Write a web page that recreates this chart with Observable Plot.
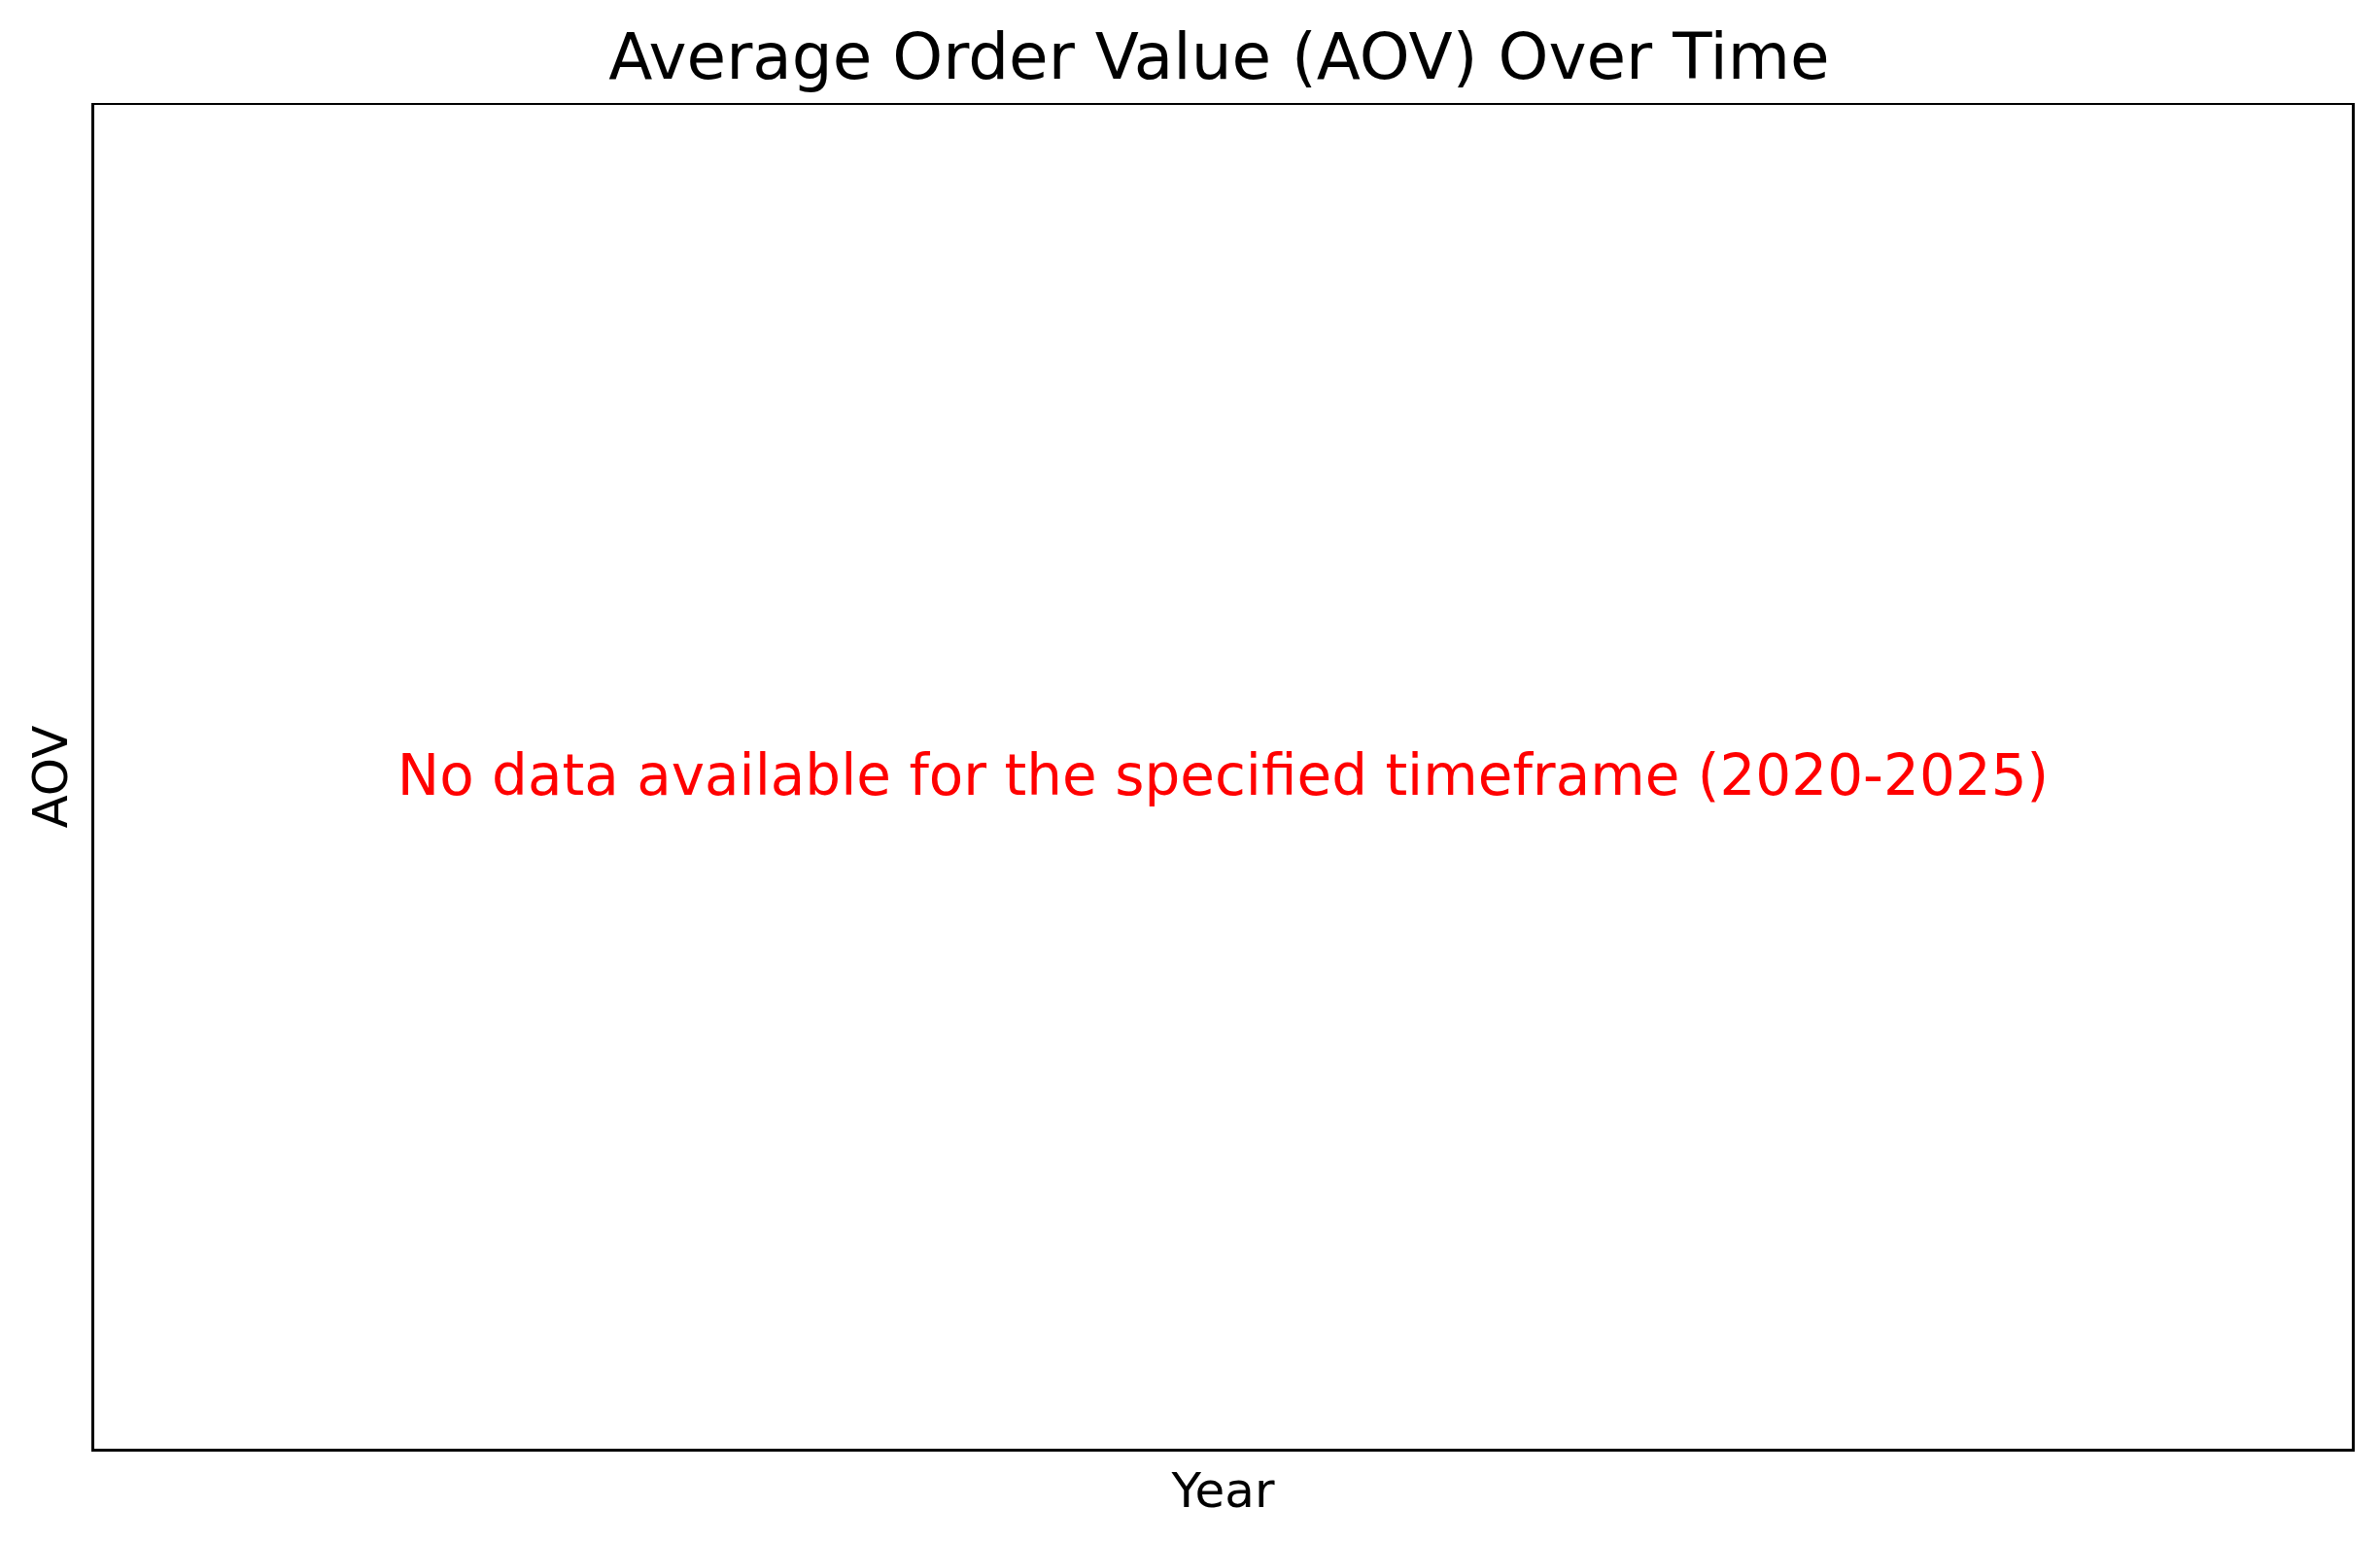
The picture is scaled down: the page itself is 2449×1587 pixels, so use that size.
<!DOCTYPE html>
<html><head><meta charset="utf-8">
<script src="https://cdn.jsdelivr.net/npm/d3@7"></script>
<script src="https://cdn.jsdelivr.net/npm/@observablehq/plot@0.6"></script>
<style>
body{margin:0;background:#fff;font-family:"DejaVu Sans",sans-serif;}
#title{height:106px;line-height:118px;text-align:center;font-size:66px;color:#000;width:2449px;padding-left:60px;box-sizing:border-box}
</style></head><body>
<div id="title">Average Order Value (AOV) Over Time</div>
<div id="chart"></div>
<script>
const years = [2020, 2025];
const aovValues = [];
const message = ["No data available for the specified timeframe (2020-2025)"];
const chart = Plot.plot({
  width: 2449, height: 1481,
  marginLeft: 95, marginRight: 28, marginTop: 0, marginBottom: 95,
  style: {fontFamily: "DejaVu Sans", fontSize: "50px", color: "#000", background: "#fff"},
  x: {domain: years},
  y: {domain: [0, 1]},
  marks: [
    Plot.frame({stroke: "#000", strokeWidth: 3}),
    Plot.axisX({ticks: [], label: "Year", labelAnchor: "center", labelArrow: "none", labelOffset: 58, fontSize: 50}),
    Plot.axisY({ticks: [], label: "AOV", labelAnchor: "center", labelArrow: "none", labelOffset: 62, fontSize: 50}),
    Plot.text(message, {text: d => d, frameAnchor: "middle", fill: "red", fontSize: 58})
  ]
});
document.getElementById("chart").append(chart);
</script></body></html>
